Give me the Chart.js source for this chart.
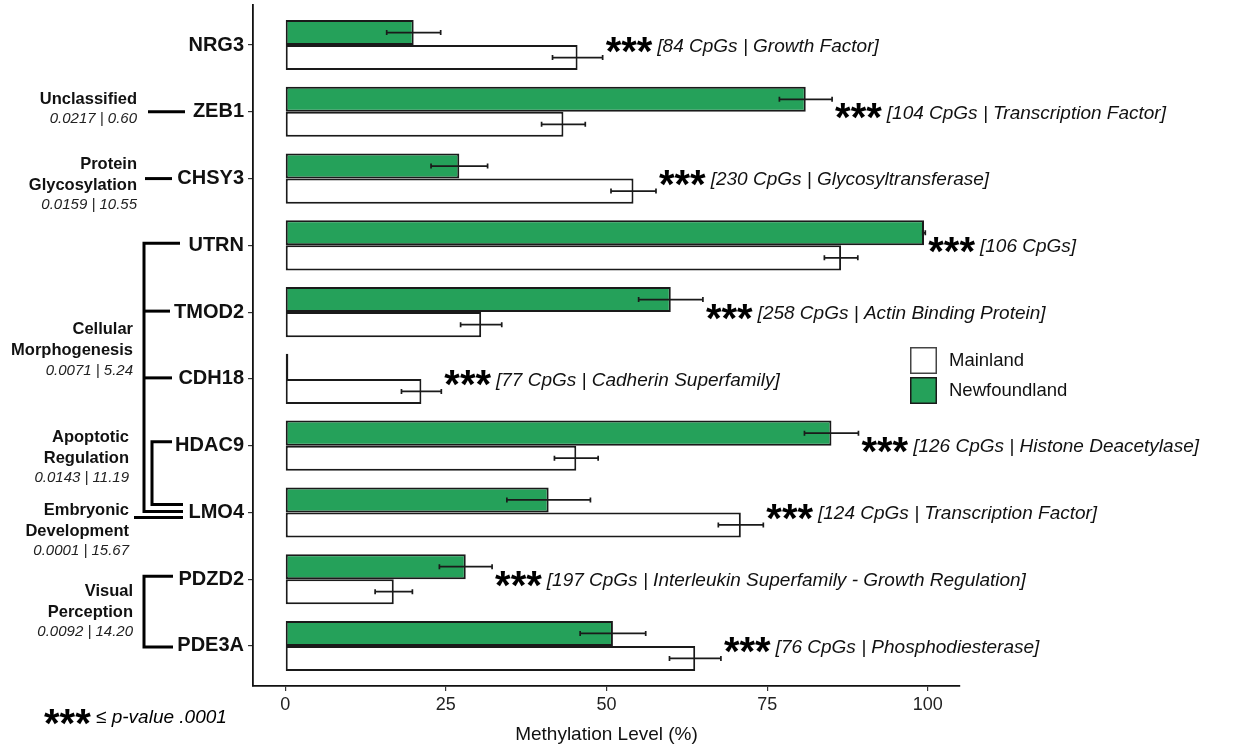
<!DOCTYPE html>
<html>
<head>
<meta charset="utf-8">
<script src="https://cdn.jsdelivr.net/npm/chart.js@4.4.1/dist/chart.umd.min.js"></script>
<style>
  html, body { margin: 0; padding: 0; background: #fff; }
  #wrap { width: 1237px; height: 748px; position: relative; }
</style>
</head>
<body>
<div id="wrap"><canvas id="c" width="1237" height="748"></canvas></div>
<script>
// ---- data ----
const genes = ['NRG3', 'ZEB1', 'CHSY3', 'UTRN', 'TMOD2', 'CDH18', 'HDAC9', 'LMO4', 'PDZD2', 'PDE3A'];
const newfoundland    = [20.0, 81.0, 27.1, 99.4, 60.0, 0.5, 85.0, 41.0, 28.1, 51.0];
const newfoundlandErr = [4.2, 4.1, 4.4, 0.2, 5.0, 0.0, 4.2, 6.5, 4.1, 5.1];
const mainland        = [45.5, 43.3, 54.2, 86.5, 30.5, 21.2, 45.3, 70.9, 16.9, 63.8];
const mainlandErr     = [3.9, 3.4, 3.5, 2.6, 3.2, 3.1, 3.4, 3.5, 2.9, 4.0];
const cpgLabels = [
  '[84 CpGs | Growth Factor]',
  '[104 CpGs | Transcription Factor]',
  '[230 CpGs | Glycosyltransferase]',
  '[106 CpGs]',
  '[258 CpGs | Actin Binding Protein]',
  '[77 CpGs | Cadherin Superfamily]',
  '[126 CpGs | Histone Deacetylase]',
  '[124 CpGs | Transcription Factor]',
  '[197 CpGs | Interleukin Superfamily - Growth Regulation]',
  '[76 CpGs | Phosphodiesterase]'
];
const xTicks = [0, 25, 50, 75, 100];
const groupNames = [
  ['Unclassified'],
  ['Protein', 'Glycosylation'],
  ['Cellular', 'Morphogenesis'],
  ['Apoptotic', 'Regulation'],
  ['Embryonic', 'Development'],
  ['Visual', 'Perception']
];
const groupStats = ['0.0217 | 0.60', '0.0159 | 10.55', '0.0071 | 5.24', '0.0143 | 11.19', '0.0001 | 15.67', '0.0092 | 14.20'];
const seriesNames = ['Newfoundland', 'Mainland'];

// ---- styles ----
const GREEN = '#25a15a';
const EDGE = '#1a1a1a';
const FONT = "'Liberation Sans', Arial, sans-serif";
const STAR_SHIFT = 18;

const errPlugin = {
  id: 'errs',
  afterDatasetsDraw(chart) {
    const ctx = chart.ctx;
    const xs = chart.scales.x;
    const errs = [newfoundlandErr, mainlandErr];
    const vals = [newfoundland, mainland];
    ctx.save();
    ctx.strokeStyle = EDGE;
    ctx.lineWidth = 1.7;
    chart.data.datasets.forEach((ds, di) => {
      const meta = chart.getDatasetMeta(di);
      meta.data.forEach((bar, i) => {
        const e = errs[di][i];
        if (e <= 0) return;
        const v = vals[di][i];
        const x1 = xs.getPixelForValue(v - e), x2 = xs.getPixelForValue(v + e);
        const y = bar.y;
        ctx.beginPath();
        ctx.moveTo(x1, y); ctx.lineTo(x2, y);
        ctx.moveTo(x1, y - 2.5); ctx.lineTo(x1, y + 2.5);
        ctx.moveTo(x2, y - 2.5); ctx.lineTo(x2, y + 2.5);
        ctx.stroke();
      });
    });
    // significance annotations
    const ys = chart.scales.y;
    genes.forEach((g, i) => {
      const end = Math.max(newfoundland[i] + newfoundlandErr[i], mainland[i] + mainlandErr[i]);
      const x = xs.getPixelForValue(end) + 3;
      const y = ys.getPixelForValue(i) + 1.5;
      ctx.fillStyle = '#000';
      ctx.font = 'bold 40px ' + FONT;
      ctx.textAlign = 'left';
      ctx.textBaseline = 'alphabetic';
      ctx.fillText('***', x, y + STAR_SHIFT);
      const w = ctx.measureText('***').width;
      ctx.font = 'italic 19px ' + FONT;
      ctx.textBaseline = 'middle';
      ctx.fillStyle = '#111';
      ctx.fillText(cpgLabels[i], x + w + 5, y);
    });
    ctx.restore();
  }
};

const sidePlugin = {
  id: 'side',
  afterDraw(chart) {
    const ctx = chart.ctx;
    const ys = chart.scales.y;
    const Y = (name) => ys.getPixelForValue(genes.indexOf(name));
    ctx.save();
    ctx.strokeStyle = '#000';
    ctx.lineWidth = 3;
    ctx.lineCap = 'butt';
    const line = (pts) => {
      ctx.beginPath();
      ctx.moveTo(pts[0][0], pts[0][1]);
      for (let k = 1; k < pts.length; k++) ctx.lineTo(pts[k][0], pts[k][1]);
      ctx.stroke();
    };
    // Unclassified
    line([[148, Y('ZEB1')], [185, Y('ZEB1')]]);
    // Protein Glycosylation
    line([[145, Y('CHSY3')], [172, Y('CHSY3')]]);
    // Cellular Morphogenesis
    line([[180, Y('UTRN') - 2], [144, Y('UTRN') - 2], [144, Y('LMO4') - 1], [183, Y('LMO4') - 1]]);
    line([[144, Y('TMOD2') - 1], [170, Y('TMOD2') - 1]]);
    line([[144, Y('CDH18') - 1], [172, Y('CDH18') - 1]]);
    // Apoptotic Regulation
    line([[172, Y('HDAC9') - 4], [152, Y('HDAC9') - 4], [152, Y('LMO4') - 8], [183, Y('LMO4') - 8]]);
    // Embryonic Development
    line([[134, Y('LMO4') + 5], [183, Y('LMO4') + 5]]);
    // Visual Perception
    line([[173, Y('PDZD2') - 3], [144, Y('PDZD2') - 3], [144, Y('PDE3A') + 1], [173, Y('PDE3A') + 1]]);

    // group texts
    const anchors = [
      [Y('ZEB1') - 12, 137],
      [Y('CHSY3') - 14, 137],
      [Y('CDH18') - 49, 133],
      [Y('HDAC9') - 8, 129],
      [Y('LMO4') - 2, 129],
      [Y('PDZD2') + 12, 133]
    ];
    ctx.textAlign = 'right';
    ctx.textBaseline = 'middle';
    groupNames.forEach((lines, gi) => {
      let [y, xr] = anchors[gi];
      ctx.fillStyle = '#111';
      ctx.font = 'bold 16.5px ' + FONT;
      lines.forEach((t, k) => {
        ctx.fillText(t, xr, y);
        y += 21;
      });
      y -= 1.5;
      ctx.font = 'italic 15px ' + FONT;
      ctx.fillStyle = '#222';
      ctx.fillText(groupStats[gi], xr, y);
    });

    // legend
    const lx = 910, ly = 347, bs = 27;
    const items = [[seriesNames[1], '#ffffff'], [seriesNames[0], GREEN]];
    ctx.lineWidth = 1.5;
    items.forEach((it, k) => {
      const yy = ly + k * 30;
      ctx.fillStyle = it[1];
      ctx.fillRect(lx, yy, bs, bs);
      ctx.strokeStyle = k === 0 ? '#444' : EDGE;
      ctx.strokeRect(lx + 0.75, yy + 0.75, bs - 1.5, bs - 1.5);
      ctx.fillStyle = '#111';
      ctx.font = '18.5px ' + FONT;
      ctx.textAlign = 'left';
      ctx.textBaseline = 'middle';
      ctx.fillText(it[0], lx + bs + 12, yy + bs / 2);
    });

    // footnote
    ctx.fillStyle = '#000';
    ctx.font = 'bold 40px ' + FONT;
    ctx.textAlign = 'left';
    ctx.textBaseline = 'alphabetic';
    ctx.fillText('***', 44, 719 + STAR_SHIFT);
    ctx.font = '19px ' + FONT;
    ctx.textBaseline = 'middle';
    ctx.fillText('\u2264', 96, 718);
    const lw = ctx.measureText('\u2264 ').width;
    ctx.font = 'italic 19px ' + FONT;
    ctx.fillText('p-value .0001', 96 + lw, 718);
    ctx.restore();
  }
};

const toXY = (arr) => arr.map((v, i) => ({ x: v, y: i }));

new Chart(document.getElementById('c'), {
  type: 'bar',
  data: {
    datasets: [
      { label: seriesNames[0], data: toXY(newfoundland), backgroundColor: GREEN, borderColor: EDGE, borderWidth: 2, borderSkipped: false },
      { label: seriesNames[1], data: toXY(mainland), backgroundColor: '#ffffff', borderColor: EDGE, borderWidth: 2, borderSkipped: false }
    ]
  },
  options: {
    indexAxis: 'y',
    responsive: false,
    animation: false,
    devicePixelRatio: 1,
    categoryPercentage: 0.75,
    barPercentage: 1.0,
    layout: { padding: { left: 0, top: 5, right: 277, bottom: 0 } },
    plugins: { legend: { display: false }, tooltip: { enabled: false } },
    scales: {
      x: {
        type: 'linear',
        min: -5, max: 105,
        offset: false,
        afterBuildTicks: (s) => { s.ticks = xTicks.map(v => ({ value: v })); },
        afterFit: (s) => { s.height = 62; s.paddingLeft = 0; s.paddingRight = 0; },
        grid: { offset: false, drawOnChartArea: false, drawTicks: true, tickLength: 5, color: '#333', lineWidth: 1.2 },
        border: { display: true, color: '#111', width: 1.8 },
        ticks: { color: '#222', font: { family: FONT, size: 18 }, padding: 3, maxRotation: 0 },
        title: { display: true, text: 'Methylation Level (%)', color: '#111', font: { family: FONT, size: 19 }, padding: { top: 0, bottom: 2 } }
      },
      y: {
        type: 'linear',
        min: -0.6, max: 9.6,
        reverse: true,
        offset: false,
        afterBuildTicks: (s) => { s.ticks = genes.map((g, i) => ({ value: i })); },
        afterFit: (s) => { s.width = 253; s.paddingTop = 0; s.paddingBottom = 0; },
        grid: { offset: false, drawOnChartArea: false, drawTicks: true, tickLength: 5, color: '#333', lineWidth: 1.2 },
        border: { display: true, color: '#111', width: 1.8 },
        ticks: {
          color: '#111', font: { family: FONT, size: 20, weight: 'bold' }, padding: 4,
          callback: (v) => genes[v] !== undefined ? genes[v] : ''
        }
      }
    }
  },
  plugins: [errPlugin, sidePlugin]
});
</script>
</body>
</html>
